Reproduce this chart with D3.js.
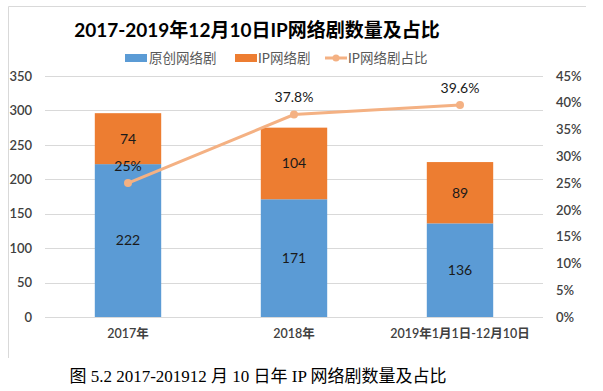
<!DOCTYPE html>
<html lang="zh">
<head>
  <meta charset="UTF-8">
  <title>IP网络剧数量及占比</title>
  <script src="https://d3js.org/d3.v7.min.js"></script>
  <style>
    body { margin: 0; background: #fff; }
    .tick text { font-family: Lato, "Noto Sans CJK SC", sans-serif; font-size: 13px; font-weight: 600; fill: #404040; }
    .label { font-family: Lato, "Noto Sans CJK SC", sans-serif; font-size: 14px; fill: #1a1a1a; }
  </style>
</head>
<body>
  <div id="chart"></div>

  <script>
    const categories = ["2017年", "2018年", "2019年1月1日-12月10日"];
    const original = [222, 171, 136];
    const ip = [74, 104, 89];
    const share = [25, 37.8, 39.6];
    const shareLabels = ["25%", "37.8%", "39.6%"];
    const leftTicks = [0, 50, 100, 150, 200, 250, 300, 350];
    const rightTicks = [0, 5, 10, 15, 20, 25, 30, 35, 40, 45];

    const blue = "#5B9BD5", orange = "#ED7D31", lineColor = "#F4B183";

    const svg = d3.select("#chart")
      .append("svg")
      .attr("width", 603)
      .attr("height", 391);

    // chart frame (top and left edges visible)
    svg.append("path")
      .attr("d", "M8.5,358 V6.5 H586")
      .attr("fill", "none")
      .attr("stroke", "#d9d9d9");

    const x = d3.scaleBand()
      .domain(categories)
      .range([45, 543])
      .paddingInner(0.6)
      .paddingOuter(0.3);

    const y = d3.scaleLinear().domain([0, 350]).range([317, 76]);
    const y2 = d3.scaleLinear().domain([0, 45]).range([317, 76]);

    // gridlines
    svg.append("g")
      .selectAll("line")
      .data(leftTicks)
      .join("line")
      .attr("x1", 45).attr("x2", 543)
      .attr("y1", d => Math.round(y(d)) + 0.5)
      .attr("y2", d => Math.round(y(d)) + 0.5)
      .attr("stroke", "#d9d9d9");

    const left = svg.append("g")
      .attr("transform", "translate(45,0)")
      .call(d3.axisLeft(y).tickValues(leftTicks).tickSize(0).tickPadding(13));
    left.select(".domain").remove();

    const right = svg.append("g")
      .attr("transform", "translate(543,0)")
      .call(d3.axisRight(y2).tickValues(rightTicks).tickSize(0).tickPadding(13).tickFormat(d => d + "%"));
    right.select(".domain").remove();

    const bottom = svg.append("g")
      .attr("transform", "translate(0,317)")
      .call(d3.axisBottom(x).tickSize(0).tickPadding(12));
    bottom.select(".domain").remove();
    bottom.selectAll("text").style("font-size", "12.5px");

    // stacked bars
    const bars = svg.append("g");
    bars.selectAll(".orig")
      .data(categories)
      .join("rect")
      .attr("x", d => x(d))
      .attr("width", x.bandwidth())
      .attr("y", (d, i) => y(original[i]))
      .attr("height", (d, i) => y(0) - y(original[i]))
      .attr("fill", blue);

    bars.selectAll(".ip")
      .data(categories)
      .join("rect")
      .attr("x", d => x(d))
      .attr("width", x.bandwidth())
      .attr("y", (d, i) => y(original[i] + ip[i]))
      .attr("height", (d, i) => y(original[i]) - y(original[i] + ip[i]))
      .attr("fill", orange);

    const cx = d => x(d) + x.bandwidth() / 2;

    svg.append("g").selectAll("text")
      .data(categories)
      .join("text")
      .attr("class", "label")
      .attr("x", cx)
      .attr("y", (d, i) => y(original[i] / 2))
      .attr("dy", "0.35em")
      .attr("text-anchor", "middle")
      .text((d, i) => original[i]);

    svg.append("g").selectAll("text")
      .data(categories)
      .join("text")
      .attr("class", "label")
      .attr("x", cx)
      .attr("y", (d, i) => y(original[i] + ip[i] / 2))
      .attr("dy", "0.35em")
      .attr("text-anchor", "middle")
      .text((d, i) => ip[i]);

    // share line
    const line = d3.line()
      .x(d => cx(d))
      .y((d, i) => y2(share[i]));

    svg.append("path")
      .datum(categories)
      .attr("d", line)
      .attr("fill", "none")
      .attr("stroke", lineColor)
      .attr("stroke-width", 3);

    svg.append("g").selectAll("circle")
      .data(categories)
      .join("circle")
      .attr("cx", cx)
      .attr("cy", (d, i) => y2(share[i]))
      .attr("r", 4)
      .attr("fill", lineColor);

    svg.append("g").selectAll("text")
      .data(categories)
      .join("text")
      .attr("class", "label")
      .attr("x", cx)
      .attr("y", (d, i) => y2(share[i]) - 17)
      .attr("dy", "0.35em")
      .attr("text-anchor", "middle")
      .text((d, i) => shareLabels[i]);

    // title
    svg.append("text")
      .attr("x", 257)
      .attr("y", 37)
      .attr("text-anchor", "middle")
      .style("font-family", "Lato, 'Noto Sans CJK SC', sans-serif")
      .style("font-size", "19px")
      .style("font-weight", "bold")
      .style("fill", "#000")
      .text("2017-2019年12月10日IP网络剧数量及占比");

    // legend
    const legend = svg.append("g")
      .style("font-family", "Lato, 'Noto Sans CJK SC', sans-serif")
      .style("font-size", "13.5px")
      .style("fill", "#595959");
    legend.append("rect").attr("x", 125).attr("y", 54).attr("width", 22).attr("height", 8).attr("fill", blue);
    legend.append("text").attr("x", 149).attr("y", 58).attr("dy", "0.35em").text("原创网络剧");
    legend.append("rect").attr("x", 235).attr("y", 54).attr("width", 22).attr("height", 8).attr("fill", orange);
    legend.append("text").attr("x", 258).attr("y", 58).attr("dy", "0.35em").text("IP网络剧");
    legend.append("line").attr("x1", 325).attr("x2", 347).attr("y1", 58).attr("y2", 58)
      .attr("stroke", lineColor).attr("stroke-width", 3);
    legend.append("circle").attr("cx", 336).attr("cy", 58).attr("r", 3.5).attr("fill", lineColor);
    legend.append("text").attr("x", 348).attr("y", 58).attr("dy", "0.35em").text("IP网络剧占比");

    // caption
    svg.append("text")
      .attr("x", 258)
      .attr("y", 382)
      .attr("text-anchor", "middle")
      .style("font-family", "'Liberation Serif', 'Noto Sans CJK SC', serif")
      .style("font-size", "17px")
      .style("fill", "#000")
      .text("图 5.2 2017-201912 月 10 日年 IP 网络剧数量及占比");
  </script>
</body>
</html>
